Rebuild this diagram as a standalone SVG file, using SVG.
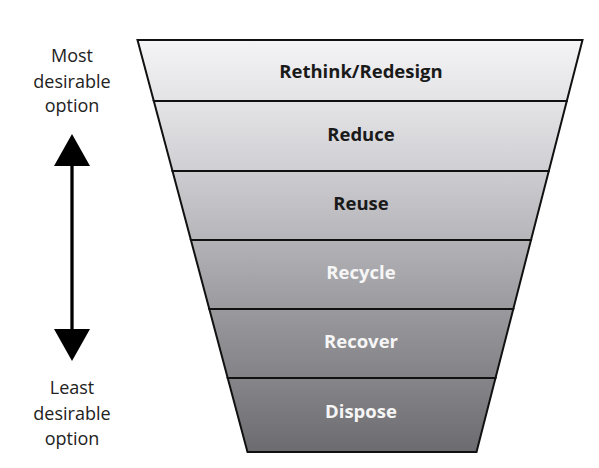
<svg xmlns="http://www.w3.org/2000/svg" width="599" height="468" viewBox="0 0 599 468">
<defs>
<linearGradient id="g1" x1="0" y1="0" x2="0" y2="1"><stop offset="0" stop-color="#f4f4f6"/><stop offset="1" stop-color="#e3e3e6"/></linearGradient>
<linearGradient id="g2" x1="0" y1="0" x2="0" y2="1"><stop offset="0" stop-color="#e4e4e7"/><stop offset="1" stop-color="#cfcfd3"/></linearGradient>
<linearGradient id="g3" x1="0" y1="0" x2="0" y2="1"><stop offset="0" stop-color="#cdcdd1"/><stop offset="1" stop-color="#b6b6ba"/></linearGradient>
<linearGradient id="g4" x1="0" y1="0" x2="0" y2="1"><stop offset="0" stop-color="#b3b3b7"/><stop offset="1" stop-color="#9b9b9f"/></linearGradient>
<linearGradient id="g5" x1="0" y1="0" x2="0" y2="1"><stop offset="0" stop-color="#9a9a9e"/><stop offset="1" stop-color="#838387"/></linearGradient>
<linearGradient id="g6" x1="0" y1="0" x2="0" y2="1"><stop offset="0" stop-color="#86868a"/><stop offset="1" stop-color="#6c6c70"/></linearGradient>
<marker id="head" viewBox="0 0 32 36" refX="0" refY="18" markerWidth="32" markerHeight="36" markerUnits="userSpaceOnUse" orient="auto-start-reverse">
<path d="M0,0 L32,18 L0,36 Z" fill="#000"/>
</marker>
</defs>
<style>
.band{stroke:#111;stroke-width:2;stroke-linejoin:miter}
.lbl{font-family:"Open Sans","Liberation Sans",sans-serif;font-weight:bold;font-size:18.5px;text-anchor:middle}
.dark{fill:#1a1a1a}
.light{fill:#f6f6f6}
.side{font-family:"Open Sans","Liberation Sans",sans-serif;font-size:18px;fill:#222;text-anchor:middle}
</style>
<rect width="599" height="468" fill="#fff"/>
<g id="rethink">
<polygon class="band" fill="url(#g1)" points="137.5,40 582.5,40 566.8,101 153.8,101"/>
<text class="lbl dark" x="361" y="77.5">Rethink/Redesign</text>
</g>
<g id="reduce">
<polygon class="band" fill="url(#g2)" points="153.8,101 566.8,101 548.8,171 172.5,171"/>
<text class="lbl dark" x="361" y="141">Reduce</text>
</g>
<g id="reuse">
<polygon class="band" fill="url(#g3)" points="172.5,171 548.8,171 531,240 190.9,240"/>
<text class="lbl dark" x="361" y="209.5">Reuse</text>
</g>
<g id="recycle">
<polygon class="band" fill="url(#g4)" points="190.9,240 531,240 513.3,309 209.3,309"/>
<text class="lbl light" x="361" y="279">Recycle</text>
</g>
<g id="recover">
<polygon class="band" fill="url(#g5)" points="209.3,309 513.3,309 495.5,378 227.7,378"/>
<text class="lbl light" x="361" y="348">Recover</text>
</g>
<g id="dispose">
<polygon class="band" fill="url(#g6)" points="227.7,378 495.5,378 476.5,452 247.5,452"/>
<text class="lbl light" x="361" y="418">Dispose</text>
</g>
<g id="most-label">
<text class="side" x="72" y="61.5">Most</text>
<text class="side" x="72" y="88">desirable</text>
<text class="side" x="72" y="112">option</text>
</g>
<g id="least-label">
<text class="side" x="72" y="394">Least</text>
<text class="side" x="72" y="420">desirable</text>
<text class="side" x="72" y="444.5">option</text>
</g>
<g id="connectors">
<line x1="72" y1="166" x2="72" y2="329" stroke="#000" stroke-width="3.3" marker-start="url(#head)" marker-end="url(#head)"/>
</g>
</svg>
